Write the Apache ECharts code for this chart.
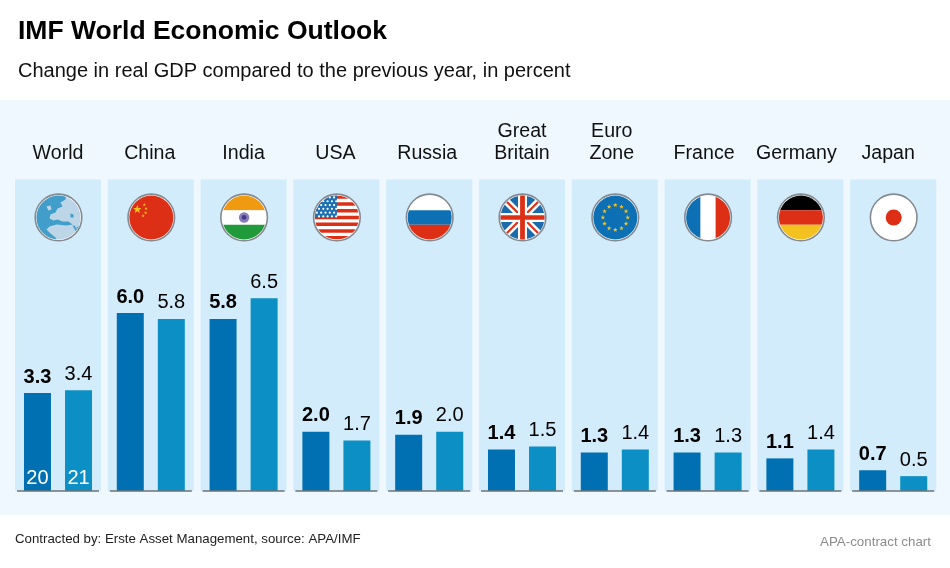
<![CDATA[<!DOCTYPE html>
<html><head><meta charset="utf-8">
<style>html,body{margin:0;padding:0;background:#fff}#c{width:950px;height:568px}</style>
<script src="https://cdn.jsdelivr.net/npm/echarts@6/dist/echarts.min.js"></script>
</head><body><div id="c"></div>
<script>
const categories = ['World','China','India','USA','Russia','Great\nBritain','Euro\nZone','France','Germany','Japan'];
const values2020 = [3.3,6.0,5.8,2.0,1.9,1.4,1.3,1.3,1.1,0.7];
const values2021 = [3.4,5.8,6.5,1.7,2.0,1.5,1.4,1.3,1.4,0.5];
const yearLabels = ['20','21'];
const flags = ['world','china','india','usa','russia','uk','eu','france','germany','japan'];

const FONT = '"Liberation Sans", Arial, sans-serif';
const yMax = 10.5, flagLevel = 9.22;
const labelShift = [0,1,0,1,2,0,3,3.5,4,5];
const RED='#dc2f16', BLUE='#0e70b4', WHITE='#ffffff', YEL='#f3c221';
const LAND='#bcd6e8', SEA='#419eca';

function rect(x,y,w,h,fill){return {type:'rect',shape:{x,y,width:w,height:h},style:{fill}};}
function disc(x,y,r,fill){return {type:'circle',shape:{cx:x,cy:y,r},style:{fill}};}
function star(x,y,r,fill){
  const pts=[];
  for(let i=0;i<10;i++){const a=-Math.PI/2+i*Math.PI/5,q=i%2?r*0.42:r;pts.push([x+q*Math.cos(a),y+q*Math.sin(a)]);}
  return {type:'polygon',shape:{points:pts},style:{fill}};
}
function poly(points,fill){return {type:'polygon',shape:{points},style:{fill}};}
function bandLine(x1,y1,x2,y2,w,stroke){return {type:'line',shape:{x1,y1,x2,y2},style:{stroke,lineWidth:w}};}

const painters = {
  world(){return [rect(-24,-24,48,48,LAND),
    poly([[-24,-24],[8,-24],[7,-18],[2,-15],[4,-11],[-1,-9],[-3,-5],[-8,-3],[-9,1],[-5,3],[-1,2],[4,4],[10,4],[14,7],[8,8],[-2,7],[-9,9],[-12,12],[-8,16],[-3,20],[-1,24],[-24,24]],SEA),
    poly([[-12,-11],[-8,-12],[-7,-8],[-10,-7]],LAND),
    poly([[14,8],[16,8],[20,15],[18,15]],SEA),
    poly([[12,-4],[15,-3],[15,0],[12,0]],SEA),
    poly([[18,10],[24,6],[24,14],[20,18]],SEA)];},
  china(){return [rect(-24,-24,48,48,RED),star(-14,-8,4.4,YEL),star(-7,-12.7,1.7,YEL),star(-5.3,-9,1.7,YEL),star(-5.7,-4.7,1.7,YEL),star(-8.3,-1.7,1.7,YEL)];},
  india(){return [rect(-24,-24,48,17,'#f09a12'),rect(-24,-7.3,48,14.6,WHITE),rect(-24,7.3,48,17,'#209a3a'),disc(0,0,5.2,'#8a7cb8'),disc(0,0,2.4,'#3f3c8c')];},
  usa(){
    const out=[rect(-24,-24,48,48,WHITE)];
    const h=44/13;
    for(let i=0;i<7;i++) out.push(rect(-24,-22+i*2*h,48,h,RED));
    out.push(rect(-24,-24,24,24.5,'#1c6fb0'));
    for(let r=0;r<6;r++) for(let c=0;c<5;c++) out.push(disc(-20+c*4.3+(r%2?2.1:0),-20+r*3.8,1.1,WHITE));
    return out;
  },
  russia(){return [rect(-24,-24,48,17,WHITE),rect(-24,-7.3,48,14.6,BLUE),rect(-24,7.3,48,17,RED)];},
  uk(){return [rect(-24,-24,48,48,'#1a6bab'),
    bandLine(-24,-24,24,24,7,WHITE),bandLine(-24,24,24,-24,7,WHITE),
    bandLine(-24,-24,24,24,2.2,RED),bandLine(-24,24,24,-24,2.2,RED),
    rect(-24,-4.5,48,9,WHITE),rect(-4.5,-24,9,48,WHITE),
    rect(-24,-2.2,48,4.4,RED),rect(-2.4,-24,4.8,48,RED)];},
  eu(){const out=[rect(-24,-24,48,48,BLUE)];
    for(let i=0;i<12;i++){const a=i*Math.PI/6;out.push(star(12.4*Math.cos(a),12.4*Math.sin(a),2.4,YEL));}
    return out;},
  france(){return [rect(-24,-24,16.5,48,BLUE),rect(-7.5,-24,15,48,WHITE),rect(7.5,-24,16.5,48,RED)];},
  germany(){return [rect(-24,-24,48,16.7,'#000000'),rect(-24,-7.3,48,14.6,RED),rect(-24,7.3,48,17,YEL)];},
  japan(){return [rect(-24,-24,48,48,WHITE),disc(0,0,8,RED)];}
};

function renderPanel(params, api){
  const i=api.value(0), top=api.coord([i,yMax]), base=api.coord([i,0]);
  return {type:'rect',shape:{x:top[0]-43,y:top[1],width:86,height:base[1]-top[1]},style:{fill:'#d3ecfb'}};
}
function renderFront(params, api){
  const i=api.value(0), base=api.coord([i,0]), f=api.coord([i,flagLevel]);
  return {type:'group',children:[
    {type:'line',shape:{x1:base[0]-41,y1:base[1],x2:base[0]+41,y2:base[1]},style:{stroke:'#6d7276',lineWidth:1.5}},
    {type:'group',x:f[0]+0.5,y:f[1],children:[
      {type:'circle',shape:{cx:0,cy:0,r:23.3},style:{fill:'#ffffff',stroke:'#848a90',lineWidth:1.6}},
      {type:'group',clipPath:{type:'circle',shape:{cx:0,cy:0,r:22}},children:painters[flags[i]]()}
    ]}
  ]};
}
const panelData = categories.map((c,i)=>[i,yMax]);

function valueLabel(weight){
  return {show:true,position:'top',distance:6,fontFamily:FONT,fontSize:20,fontWeight:weight,color:'#000',
    formatter:p=>p.value.toFixed(1)};
}
function yearMark(label){
  return {symbol:'circle',symbolSize:0,silent:true,
    label:{show:true,position:'top',distance:3,color:'#fff',fontFamily:FONT,fontSize:20,formatter:label},
    data:[{coord:[0,0]}]};
}
const labelRich = {};
labelShift.forEach((s,i)=>{labelRich['p'+i]={padding:[0,s*2,0,0],color:'#111',fontFamily:FONT,fontSize:19.6,lineHeight:22};});

const chart = echarts.init(document.getElementById('c'),null,{renderer:'canvas'});
chart.setOption({
  animation:false,
  backgroundColor:'#ffffff',
  title:[
    {text:'IMF World Economic Outlook',left:18,top:18,padding:0,textStyle:{fontFamily:FONT,fontSize:26.5,fontWeight:'bold',color:'#000'}},
    {text:'Change in real GDP compared to the previous year, in percent',left:18,top:61,padding:0,textStyle:{fontFamily:FONT,fontSize:20,fontWeight:'normal',color:'#111'}},
    {text:'Contracted by: Erste Asset Management, source: APA/IMF',left:15,top:533,padding:0,textStyle:{fontFamily:FONT,fontSize:13.27,fontWeight:'normal',color:'#222'}},
    {text:'APA-contract chart',right:19,top:536,padding:0,textStyle:{fontFamily:FONT,fontSize:13.35,fontWeight:'normal',color:'#8c8c8c'}}
  ],
  graphic:[{type:'rect',z:-10,shape:{x:0,y:100,width:950,height:415},style:{fill:'#eef8fe'}}],
  grid:{left:11.6,width:928,top:179.5,height:311.5,containLabel:false},
  xAxis:{type:'category',position:'top',data:categories,
    axisLine:{show:false},axisTick:{show:false},
    axisLabel:{interval:0,margin:15,verticalAlign:'bottom',rich:labelRich,
      formatter:(v,i)=>v.split('\n').map(l=>'{p'+i+'|'+l+'}').join('\n')}},
  yAxis:{type:'value',min:0,max:yMax,show:false,splitLine:{show:false}},
  series:[
    {type:'custom',name:'panels',z:1,silent:true,data:panelData,encode:{x:0,y:1},renderItem:renderPanel},
    {type:'bar',name:'2020',z:2,data:values2020,barWidth:27,barGap:'52%',itemStyle:{color:'#0070b2'},label:valueLabel('bold'),markPoint:yearMark(yearLabels[0])},
    {type:'bar',name:'2021',z:2,data:values2021,barWidth:27,barGap:'52%',itemStyle:{color:'#0c8fc4'},label:valueLabel('normal'),markPoint:yearMark(yearLabels[1])},
    {type:'custom',name:'front',z:3,silent:true,data:panelData,encode:{x:0,y:1},renderItem:renderFront}
  ]
});
</script></body></html>]]>
